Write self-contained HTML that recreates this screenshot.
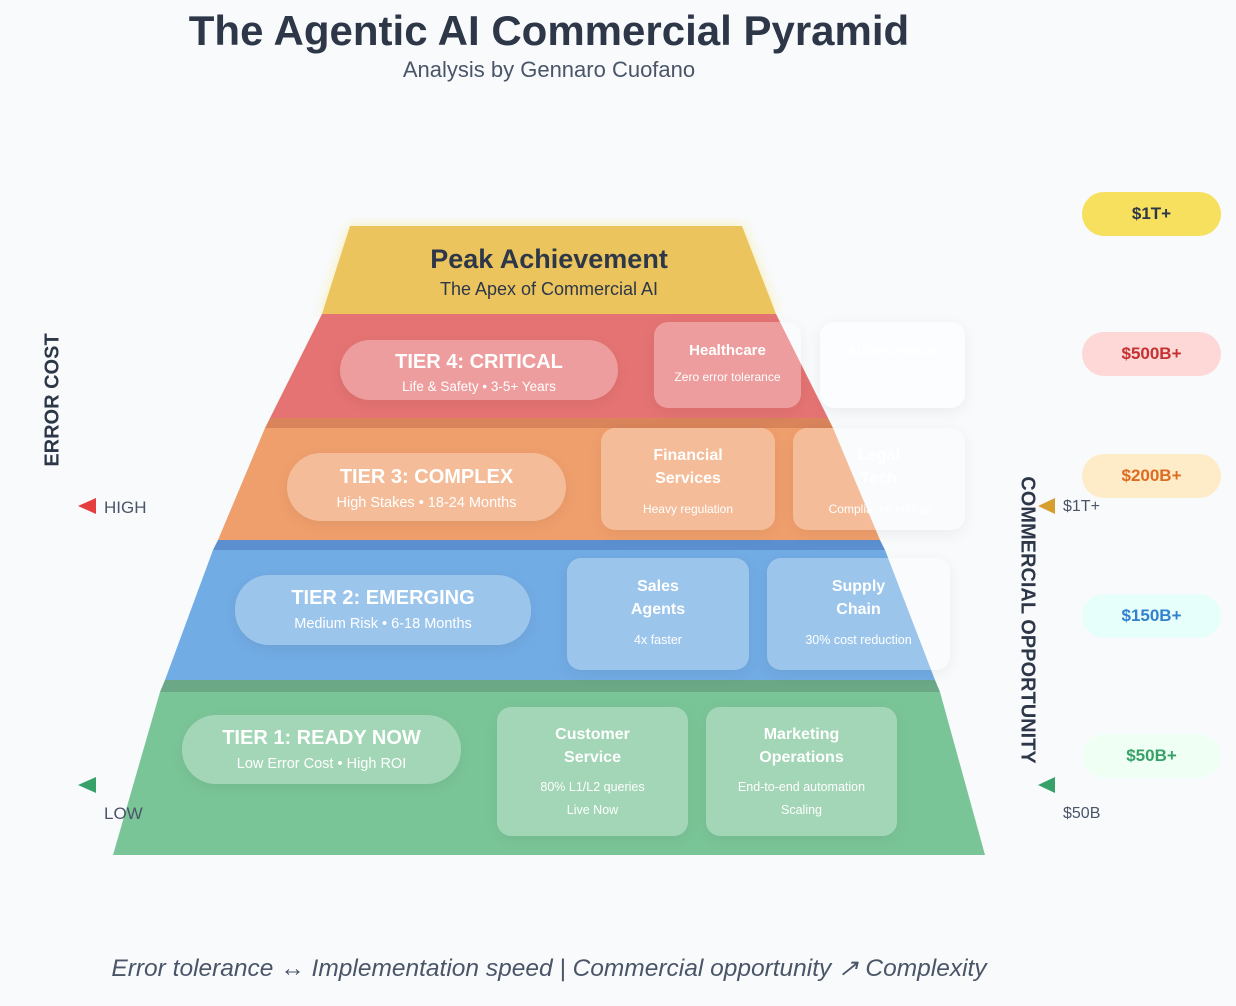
<!DOCTYPE html>
<html><head><meta charset="utf-8"><style>
*{margin:0;padding:0;box-sizing:border-box}
body{width:1236px;height:1006px;background:#f8fafc;font-family:"Liberation Sans",sans-serif;position:relative;overflow:hidden;color:#2d3748}
.a{position:absolute}
.pill{position:absolute;border-radius:34px;background:rgba(255,255,255,0.3);color:#fff;text-align:center;box-shadow:0 4px 14px rgba(0,0,0,0.06)}
.pill b{display:block;font-size:20px;margin-top:12px}
.pill span{display:block;font-size:14.5px;margin-top:6px}
.card{position:absolute;border-radius:14px;background:rgba(255,255,255,0.3);color:#fff;text-align:center;box-shadow:0 4px 16px rgba(0,0,0,0.06)}
.card b{display:block;font-size:16px;line-height:23px}
.card span{display:block;font-size:12.5px;line-height:23px}
.val{position:absolute;left:1082px;width:139px;height:44px;border-radius:22px;text-align:center;line-height:44px;font-weight:bold;font-size:17px}
</style></head><body>
<div class="a" style="left:0;top:7px;width:1098px;text-align:center;font-size:42px;font-weight:bold;color:#2d3748">The Agentic AI Commercial Pyramid</div>
<div class="a" style="left:0;top:57px;width:1098px;text-align:center;font-size:22px;color:#4a5568">Analysis by Gennaro Cuofano</div>

<svg class="a" style="left:0;top:0" width="1236" height="1006">
<defs><filter id="g"><feGaussianBlur stdDeviation="6"/></filter></defs>
<polygon points="350,226 742,226 776,314 322,314" fill="#f6e05e" opacity="0.5" filter="url(#g)"/>
<polygon points="350,226 742,226 776,314 322,314" fill="#ecc45e"/>
<polygon points="322,314 776,314 828,418 270,418" fill="#e57373"/>
<polygon points="270,418 828,418 833,428 265,428" fill="#d9845a"/>
<polygon points="265,428 833,428 880,540 218,540" fill="#ef9f6c"/>
<polygon points="218,540 880,540 885,550 213,550" fill="#5b8fcf"/>
<polygon points="213,550 885,550 935,680 165,680" fill="#72ace4"/>
<polygon points="165,680 935,680 940,692 160,692" fill="#6aa886"/>
<polygon points="160,692 940,692 985,855 113,855" fill="#7ac597"/>
<polygon points="78,506 96,498 96,514" fill="#e53e3e"/>
<polygon points="78,785 96,777 96,793" fill="#38a169"/>
<polygon points="1038,506 1055,498 1055,514" fill="#d69e2e"/>
<polygon points="1038,785 1055,777 1055,793" fill="#38a169"/>
</svg>

<div class="a" style="left:322px;top:244px;width:454px;text-align:center;font-size:27px;font-weight:bold;color:#2d3748">Peak Achievement</div>
<div class="a" style="left:322px;top:279px;width:454px;text-align:center;font-size:18px;color:#2d3748">The Apex of Commercial AI</div>

<div class="pill" style="left:340px;top:340px;width:278px;height:60px"><b style="margin-top:11px">TIER 4: CRITICAL</b><span style="font-size:13.5px;margin-top:5px">Life &amp; Safety • 3-5+ Years</span></div>
<div class="pill" style="left:287px;top:453px;width:279px;height:68px"><b style="margin-top:13px">TIER 3: COMPLEX</b><span>High Stakes • 18-24 Months</span></div>
<div class="pill" style="left:235px;top:575px;width:296px;height:70px"><b>TIER 2: EMERGING</b><span>Medium Risk • 6-18 Months</span></div>
<div class="pill" style="left:182px;top:715px;width:279px;height:69px"><b>TIER 1: READY NOW</b><span>Low Error Cost • High ROI</span></div>

<div class="card" style="left:654px;top:322px;width:147px;height:86px;padding-top:17px"><b style="font-size:15px">Healthcare</b><span style="margin-top:4px;font-size:12px">Zero error tolerance</span></div>
<div class="card" style="left:820px;top:322px;width:145px;height:86px;padding-top:17px;background:rgba(255,255,255,0.6)"><b style="font-size:15px">Autonomous</b><span style="margin-top:4px;font-size:12px">Critical systems</span></div>
<div class="card" style="left:601px;top:428px;width:174px;height:102px;padding-top:16px"><b>Financial</b><b>Services</b><span style="margin-top:8px;font-size:12px">Heavy regulation</span></div>
<div class="card" style="left:793px;top:428px;width:172px;height:102px;padding-top:16px"><b>Legal</b><b>Tech</b><span style="margin-top:8px;font-size:12px">Compliance critical</span></div>
<div class="card" style="left:567px;top:558px;width:182px;height:112px;padding-top:17px"><b>Sales</b><b>Agents</b><span style="margin-top:8px">4x faster</span></div>
<div class="card" style="left:767px;top:558px;width:183px;height:112px;padding-top:17px"><b>Supply</b><b>Chain</b><span style="margin-top:8px">30% cost reduction</span></div>
<div class="card" style="left:497px;top:707px;width:191px;height:129px;padding-top:16px"><b>Customer</b><b>Service</b><span style="margin-top:7px">80% L1/L2 queries</span><span>Live Now</span></div>
<div class="card" style="left:706px;top:707px;width:191px;height:129px;padding-top:16px"><b>Marketing</b><b>Operations</b><span style="margin-top:7px">End-to-end automation</span><span>Scaling</span></div>

<div class="a" style="left:53px;top:400px;transform:translate(-50%,-50%) rotate(-90deg);font-size:20px;font-weight:bold;white-space:nowrap;color:#2d3748">ERROR COST</div>
<div class="a" style="left:104px;top:498px;font-size:17px;color:#4a5568">HIGH</div>
<div class="a" style="left:104px;top:804px;font-size:17px;color:#4a5568">LOW</div>
<div class="a" style="left:1027px;top:620px;transform:translate(-50%,-50%) rotate(90deg);font-size:20px;font-weight:bold;white-space:nowrap;color:#2d3748">COMMERCIAL OPPORTUNITY</div>
<div class="a" style="left:1063px;top:498px;font-size:16px;color:#4a5568">$1T+</div>
<div class="a" style="left:1063px;top:805px;font-size:16px;color:#4a5568">$50B</div>

<div class="val" style="top:192px;background:#f6e05e;color:#2d3748">$1T+</div>
<div class="val" style="top:332px;background:#fed7d7;color:#c53030">$500B+</div>
<div class="val" style="top:454px;background:#feebc8;color:#dd6b20">$200B+</div>
<div class="val" style="top:594px;background:#e6fffa;color:#3182ce">$150B+</div>
<div class="val" style="top:734px;background:#f0fff4;color:#38a169">$50B+</div>

<div class="a" style="left:0;top:953px;width:1098px;text-align:center;font-size:24.5px;font-style:italic;color:#4a5568">Error tolerance ↔ Implementation speed | Commercial opportunity ↗ Complexity</div>
</body></html>
